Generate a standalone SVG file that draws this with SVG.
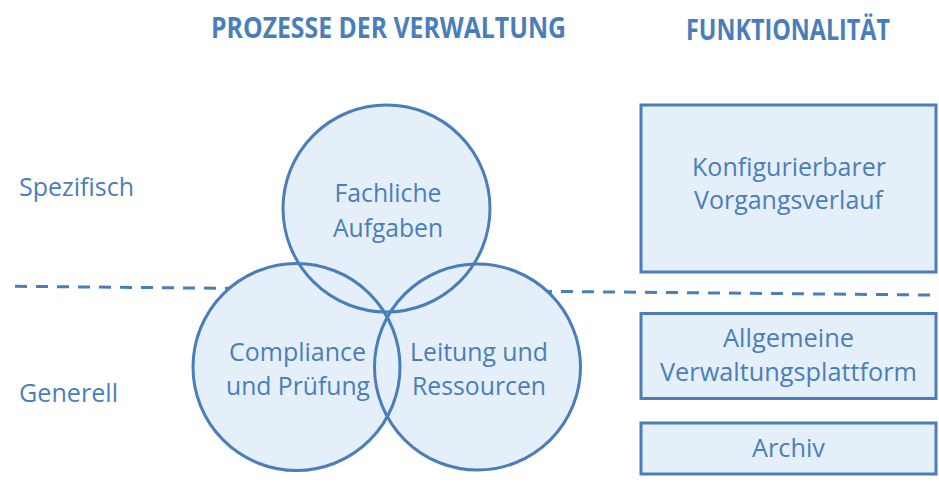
<svg xmlns="http://www.w3.org/2000/svg" width="939" height="484" viewBox="0 0 939 484">
<style>
text{font-family:"Open Sans","Noto Sans","Liberation Sans",sans-serif;fill:#4A7EBB;}
.lbl{font-size:25px;text-anchor:middle;}
.side{font-size:25px;}
.head{font-size:28px;font-weight:bold;text-anchor:middle;}
.fill{fill:#E5EFFA;stroke:none;}
.ring{fill:none;stroke:#4A7EBB;stroke-width:3;}
.box{fill:#E5EFFA;stroke:#4A7EBB;stroke-width:3;}
.dash{stroke:#4A7EBB;stroke-width:3;stroke-dasharray:12 9;fill:none;}
</style>
<rect width="939" height="484" fill="#FFFFFF"/>
<g id="headings">
<text class="head" x="388.5" y="38" textLength="355" lengthAdjust="spacingAndGlyphs">PROZESSE DER VERWALTUNG</text>
<text class="head" x="788" y="40" textLength="204" lengthAdjust="spacingAndGlyphs">FUNKTIONALITÄT</text>
</g>
<g id="side-labels">
<text class="side" x="19" y="196" textLength="115" lengthAdjust="spacingAndGlyphs">Spezifisch</text>
<text class="side" x="19" y="402" textLength="99" lengthAdjust="spacingAndGlyphs">Generell</text>
</g>
<g id="connectors">
<line class="dash" x1="15" y1="286.3" x2="930" y2="295"/>
</g>
<g id="circle-fills">
<circle class="fill" cx="386.5" cy="208.5" r="103.5"/>
<circle class="fill" cx="296.5" cy="367" r="103.5"/>
<circle class="fill" cx="477.5" cy="367" r="103"/>
</g>
<g id="fachliche-aufgaben">
<circle class="ring" cx="386.5" cy="208.5" r="103.5"/>
<text class="lbl" x="388" y="202" textLength="107" lengthAdjust="spacingAndGlyphs">Fachliche</text>
<text class="lbl" x="388" y="237" textLength="110" lengthAdjust="spacingAndGlyphs">Aufgaben</text>
</g>
<g id="compliance-pruefung">
<circle class="ring" cx="296.5" cy="367" r="103.5"/>
<text class="lbl" x="297.5" y="361" textLength="137" lengthAdjust="spacingAndGlyphs">Compliance</text>
<text class="lbl" x="298" y="395" textLength="144" lengthAdjust="spacingAndGlyphs">und Prüfung</text>
</g>
<g id="leitung-ressourcen">
<circle class="ring" cx="477.5" cy="367" r="103"/>
<text class="lbl" x="479" y="361" textLength="138" lengthAdjust="spacingAndGlyphs">Leitung und</text>
<text class="lbl" x="479" y="395" textLength="134" lengthAdjust="spacingAndGlyphs">Ressourcen</text>
</g>
<g id="vorgangsverlauf">
<rect class="box" x="641" y="105" width="295" height="167"/>
<text class="lbl" x="789" y="176" textLength="194" lengthAdjust="spacingAndGlyphs">Konfigurierbarer</text>
<text class="lbl" x="788.5" y="209" textLength="189" lengthAdjust="spacingAndGlyphs">Vorgangsverlauf</text>
</g>
<g id="verwaltungsplattform">
<rect class="box" x="641" y="313.5" width="295" height="85"/>
<text class="lbl" x="788.5" y="347" textLength="131" lengthAdjust="spacingAndGlyphs">Allgemeine</text>
<text class="lbl" x="788.5" y="381" textLength="257" lengthAdjust="spacingAndGlyphs">Verwaltungsplattform</text>
</g>
<g id="archiv">
<rect class="box" x="641" y="423" width="295" height="51"/>
<text class="lbl" x="788.5" y="457" textLength="73" lengthAdjust="spacingAndGlyphs">Archiv</text>
</g>
</svg>
